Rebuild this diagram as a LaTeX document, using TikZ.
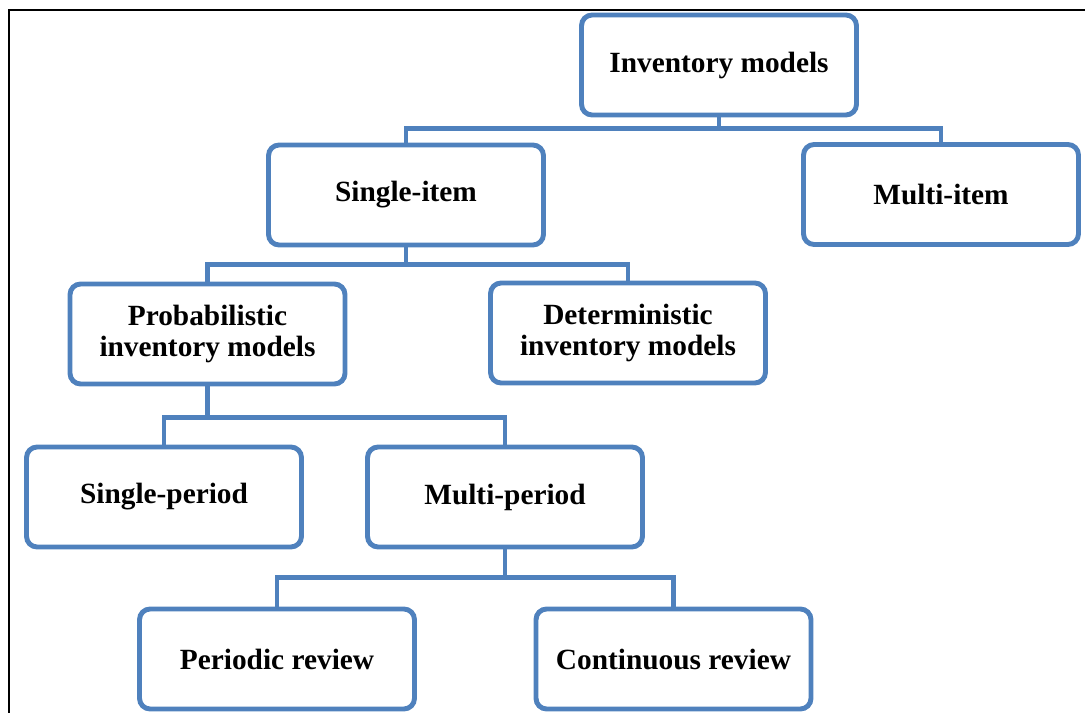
\documentclass[tikz,border=0pt]{standalone}
\usepackage{fontspec}
\setmainfont{Liberation Serif}
\definecolor{boxblue}{RGB}{79,129,189}

\begin{document}
\begin{tikzpicture}
  [x=0.02cm, y=-0.02cm,
   box/.style={draw=boxblue, line width=2.8pt, rounded corners=6pt, fill=white,
               minimum width=5.5cm, minimum height=2cm, inner sep=2pt, align=center,
               font=\bfseries\fontsize{16.7}{17.6}\selectfont},
   link/.style={draw=boxblue, line width=2.8pt}]

  % Marco
  \useasboundingbox (0,0) rectangle (1085,713);
  \draw[black, line width=1.7pt] (9,713) -- (9,10) -- (1085,10);

  % Cajas
  \node[box] (inv)   at (719,65)    {Inventory models};
  \node[box] (multi) at (941,194.5) {Multi-item};
  \node[box] (single) at (406,195)  {Single-item};
  \node[box] (prob)  at (207.5,334) {Probabilistic\\inventory models};
  \node[box] (det)   at (628,333)   {Deterministic\\inventory models};
  \node[box] (sper)  at (164,497)   {Single-period};
  \node[box] (mper)  at (505,497)   {Multi-period};
  \node[box] (peri)  at (277,659)   {Periodic review};
  \node[box] (cont)  at (673.5,659) {Continuous review};

  % Conectores
  \foreach \from/\to/\dy in {inv/single/11, inv/multi/11, single/prob/17, single/det/17,
                             prob/sper/31, prob/mper/31, mper/peri/28, mper/cont/28}
    \draw[link] (\from.south) -- ++(0,\dy) -| (\to.north);
\end{tikzpicture}
\end{document}
